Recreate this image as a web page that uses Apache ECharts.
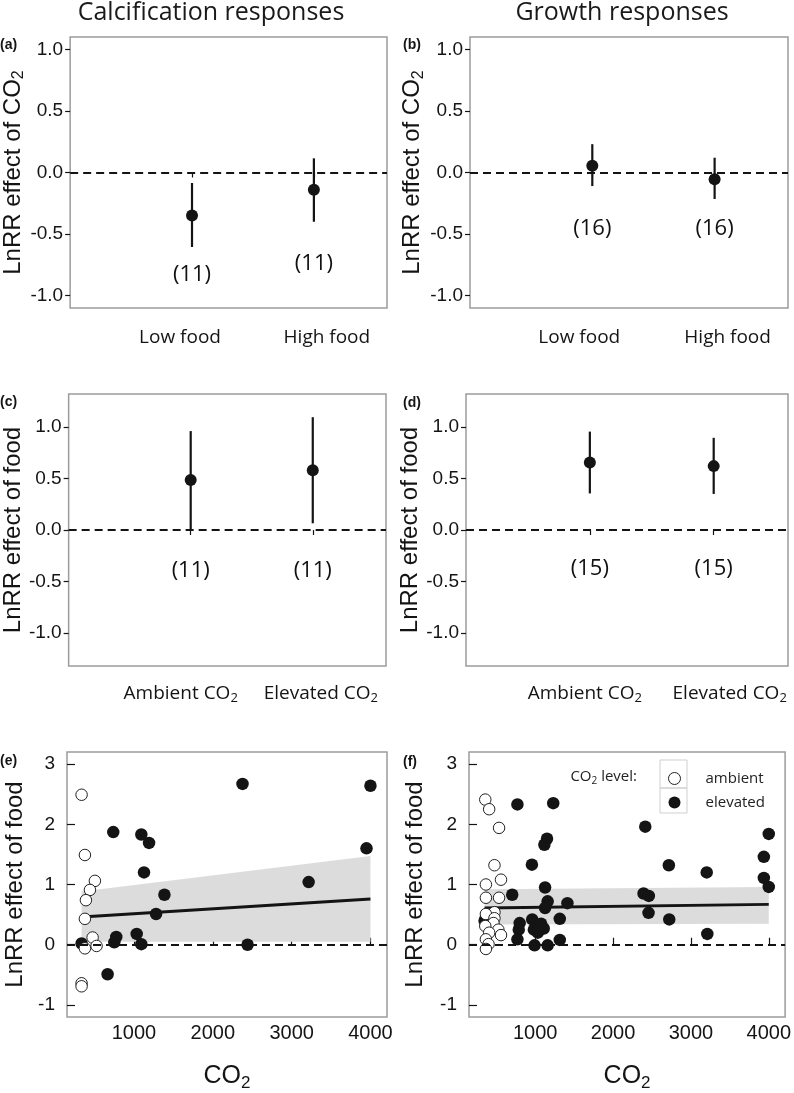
<!DOCTYPE html>
<html>
<head>
<meta charset="utf-8">
<script src="https://cdn.jsdelivr.net/npm/echarts@6/dist/echarts.min.js"></script>
<style>
html,body{margin:0;padding:0;background:#fff;}
#c{width:794px;height:1093px;}
</style>
</head>
<body>
<div id="c"></div>
<script>
// ---------------- DATA ----------------
const columnTitles = ['Calcification responses', 'Growth responses'];
const panelLetters = ['(a)', '(b)', '(c)', '(d)', '(e)', '(f)'];
const foodCats = ['Low food', 'High food'];
const co2Cats = ['Ambient CO', 'Elevated CO'];
const errTicks = [-1, -0.5, 0, 0.5, 1];
const scatYTicks = [-1, 0, 1, 2, 3];
const scatXTicks = [1000, 2000, 3000, 4000];

// (a) calcification, effect of CO2
const aMean = [-0.35, -0.14];
const aLo = [-0.605, -0.40];
const aHi = [-0.085, 0.115];
const aN = [11, 11];
const aNY = [-0.83, -0.74];
// (b) growth, effect of CO2
const bMean = [0.055, -0.055];
const bLo = [-0.11, -0.215];
const bHi = [0.23, 0.12];
const bN = [16, 16];
const bNY = [-0.455, -0.455];
// (c) calcification, effect of food
const cMean = [0.485, 0.58];
const cLo = [0.005, 0.065];
const cHi = [0.96, 1.095];
const cN = [11, 11];
const cNY = [-0.40, -0.40];
// (d) growth, effect of food
const dMean = [0.655, 0.62];
const dLo = [0.355, 0.35];
const dHi = [0.955, 0.895];
const dN = [15, 15];
const dNY = [-0.38, -0.38];

// (e) calcification: food effect vs CO2
const eAmbX = [335, 377, 504, 441, 390, 377, 475, 525, 377, 335, 335];
const eAmbY = [2.49, 1.49, 1.06, 0.91, 0.74, 0.43, 0.12, -0.02, -0.06, -0.64, -0.69];
const eElevX = [2377, 4000, 737, 1093, 1191, 1127, 3950, 3216, 1386, 1280, 1034, 775, 750, 1093, 2441, 335, 665];
const eElevY = [2.67, 2.64, 1.87, 1.83, 1.69, 1.20, 1.60, 1.04, 0.83, 0.51, 0.18, 0.13, 0.04, 0.01, 0.0, 0.02, -0.49];
const eFitX = [335, 4000];
const eFitY = [0.46, 0.76];
const eBandLo = [0.05, 0.05];
const eBandHi = [0.885, 1.475];

// (f) growth: food effect vs CO2
const fAmbX = [359, 409, 536, 477, 561, 367, 367, 536, 477, 367, 477, 464, 359, 527, 409, 561, 367, 401, 367];
const fAmbY = [2.41, 2.25, 1.94, 1.32, 1.08, 1.00, 0.78, 0.78, 0.54, 0.51, 0.44, 0.36, 0.31, 0.25, 0.20, 0.16, 0.09, 0.01, -0.07];
const fElevX = [772, 1232, 2414, 4000, 1152, 1118, 958, 2717, 3937, 3203, 3937, 4000, 705, 1127, 2392, 2460, 1160, 1414, 1127, 2456, 1316, 2722, 962, 801, 1076, 350, 789, 983, 1110, 1034, 3211, 772, 1316, 992, 1160];
const fElevY = [2.33, 2.35, 1.96, 1.84, 1.76, 1.66, 1.33, 1.32, 1.46, 1.20, 1.11, 0.96, 0.83, 0.95, 0.85, 0.81, 0.72, 0.69, 0.61, 0.53, 0.43, 0.42, 0.42, 0.36, 0.35, 0.40, 0.25, 0.25, 0.27, 0.20, 0.18, 0.09, 0.08, -0.01, -0.01];
const fFitX = [350, 4000];
const fFitY = [0.61, 0.67];
const fBandLo = [0.336, 0.347];
const fBandHi = [0.92, 0.96];

// ---------------- STYLE / LAYOUT ----------------
const SANS = 'Liberation Sans';
const HUM = 'Open Sans';
const INK = '#141414';
const BOX = '#9c9c9c';

const grids = [
  {left: 69, top: 37, width: 318, height: 271},
  {left: 470, top: 37, width: 318, height: 271},
  {left: 64, top: 394, width: 322, height: 272},
  {left: 466, top: 394, width: 322, height: 272},
  {left: 67, top: 752, width: 320, height: 271},
  {left: 469, top: 752, width: 319, height: 271}
].map(g => Object.assign({show: true, borderColor: BOX, borderWidth: 1.5, backgroundColor: 'transparent'}, g));

// horizontal shifts of the category labels (px), per panel [left label, right label]
const catShift = [[-12, 13], [-13, 13], [-10, 8], [-5, 16]];

function catAxis(idx, names, withSub) {
  const sh = catShift[idx];
  return {
    gridIndex: idx, type: 'value', min: 0, max: 2.6,
    axisLine: {show: false}, splitLine: {show: false},
    axisTick: {show: true, customValues: [1, 2], length: 5, lineStyle: {color: INK, width: 1.2}},
    axisLabel: {
      show: true, customValues: [1, 2], margin: withSub ? 16 : 20,
      fontFamily: HUM, fontSize: 19, color: INK,
      formatter: function (v) {
        const i = Math.round(v) - 1;
        const txt = names[i] + (withSub ? '{s|2}' : '');
        const s = sh[i];
        return s < 0 ? txt + '{p' + i + '| }' : '{p' + i + '| }' + txt;
      },
      rich: {
        s: {fontFamily: HUM, fontSize: 13, color: INK, padding: [10, 0, 0, 0]},
        p0: {width: Math.abs(sh[0]) * 2, fontSize: 19},
        p1: {width: Math.abs(sh[1]) * 2, fontSize: 19}
      }
    }
  };
}

function errYAxis(idx, lim, name) {
  return {
    gridIndex: idx, type: 'value', min: -lim, max: lim,
    axisLine: {show: false}, splitLine: {show: false},
    axisTick: {show: true, customValues: errTicks, length: 5, lineStyle: {color: INK, width: 1.2}},
    axisLabel: {customValues: errTicks, margin: 7, fontFamily: SANS, fontSize: 19, color: INK,
      formatter: v => v.toFixed(1)},
    name: name, nameLocation: 'middle', nameRotate: 90, nameGap: 40,
    nameTextStyle: {fontFamily: SANS, fontSize: 24, color: INK,
      rich: {s: {fontFamily: SANS, fontSize: 16, color: INK, padding: [11, 0, 0, 0]}}}
  };
}

function scatXAxis(idx) {
  return {
    gridIndex: idx, type: 'value', min: 150, max: 4210,
    axisLine: {show: false}, splitLine: {show: false},
    axisTick: {show: true, inside: true, customValues: scatXTicks, length: 7, lineStyle: {color: INK, width: 1.2}},
    axisLabel: {customValues: scatXTicks, margin: 6, fontFamily: SANS, fontSize: 20, color: INK,
      formatter: v => String(v)},
    name: 'CO{s|2}', nameLocation: 'middle', nameGap: 44,
    nameTextStyle: {fontFamily: SANS, fontSize: 25, color: INK,
      rich: {s: {fontFamily: SANS, fontSize: 17, color: INK, padding: [14, 0, 0, 0]}}}
  };
}

function scatYAxis(idx) {
  return {
    gridIndex: idx, type: 'value', min: -1.2, max: 3.2,
    axisLine: {show: false}, splitLine: {show: false},
    axisTick: {show: true, inside: true, customValues: scatYTicks, length: 8, lineStyle: {color: INK, width: 1.2}},
    axisLabel: {customValues: scatYTicks, margin: 12, fontFamily: SANS, fontSize: 19, color: INK,
      formatter: v => String(v)},
    name: 'LnRR effect of food', nameLocation: 'middle', nameRotate: 90, nameGap: idx === 4 ? 40 : 42,
    nameTextStyle: {fontFamily: SANS, fontSize: 24, color: INK}
  };
}

const zeroLine = {
  silent: true, symbol: ['none', 'none'], animation: false,
  label: {show: false},
  lineStyle: {type: [8, 5], color: INK, width: 2, opacity: 1},
  emphasis: {disabled: true},
  data: [{yAxis: 0}]
};

function errSeries(idx, mean, lo, hi, n, nY) {
  return [
    {
      type: 'custom', xAxisIndex: idx, yAxisIndex: idx, z: 3,
      data: mean.map((m, i) => [i + 1, lo[i], hi[i]]),
      encode: {x: 0, y: [1, 2]},
      renderItem: function (params, api) {
        const x = api.value(0);
        const p1 = api.coord([x, api.value(1)]);
        const p2 = api.coord([x, api.value(2)]);
        return {type: 'line', shape: {x1: p1[0], y1: p1[1], x2: p2[0], y2: p2[1]},
          style: {stroke: INK, lineWidth: 2.2}};
      }
    },
    {
      type: 'scatter', xAxisIndex: idx, yAxisIndex: idx, z: 4,
      data: mean.map((m, i) => [i + 1, m]),
      symbol: 'circle', symbolSize: 12,
      itemStyle: {color: INK, opacity: 1},
      markLine: zeroLine
    },
    {
      type: 'scatter', xAxisIndex: idx, yAxisIndex: idx, z: 4, silent: true,
      data: nY.map((y, i) => [i + 1, y]),
      symbolSize: 1, itemStyle: {color: 'rgba(0,0,0,0)', opacity: 1},
      label: {show: true, position: 'inside', fontFamily: HUM, fontSize: 22, color: '#111',
        textBorderWidth: 0, opacity: 1,
        formatter: p => '(' + n[p.dataIndex] + ')'}
    }
  ];
}

function scatSeries(idx, ambX, ambY, elvX, elvY, fitX, fitY, bandLo, bandHi) {
  return [
    {
      type: 'custom', xAxisIndex: idx, yAxisIndex: idx, z: 1, silent: true,
      data: fitX.map((x, i) => [x, bandLo[i], bandHi[i]]),
      encode: {x: 0, y: [1, 2]},
      renderItem: function (params, api) {
        if (params.dataIndex !== 0) return null;
        const pts = [];
        for (let i = 0; i < fitX.length; i++) pts.push(api.coord([fitX[i], bandLo[i]]));
        for (let i = fitX.length - 1; i >= 0; i--) pts.push(api.coord([fitX[i], bandHi[i]]));
        return {type: 'polygon', shape: {points: pts}, style: {fill: '#dcdcdc'}};
      }
    },
    {
      type: 'line', xAxisIndex: idx, yAxisIndex: idx, z: 2, silent: true,
      data: fitX.map((x, i) => [x, fitY[i]]),
      symbol: 'none', lineStyle: {color: INK, width: 3},
      markLine: zeroLine
    },
    {
      name: 'elevated', type: 'scatter', xAxisIndex: idx, yAxisIndex: idx, z: 3,
      data: elvX.map((x, i) => [x, elvY[i]]),
      symbol: 'circle', symbolSize: 12.5,
      itemStyle: {color: INK, opacity: 1}
    },
    {
      name: 'ambient', type: 'scatter', xAxisIndex: idx, yAxisIndex: idx, z: 4,
      data: ambX.map((x, i) => [x, ambY[i]]),
      symbol: 'circle', symbolSize: 11.5,
      itemStyle: {color: '#ffffff', borderColor: '#222', borderWidth: 1, opacity: 1}
    }
  ];
}

const letterPos = [[0, 45], [403, 45], [0, 402], [403, 403], [0, 761], [403, 762]];

const option = {
  animation: false,
  backgroundColor: '#ffffff',
  grid: grids,
  xAxis: [
    catAxis(0, foodCats, false), catAxis(1, foodCats, false),
    catAxis(2, co2Cats, true), catAxis(3, co2Cats, true),
    scatXAxis(4), scatXAxis(5)
  ],
  yAxis: [
    errYAxis(0, 1.1, 'LnRR effect of CO{s|2}'), errYAxis(1, 1.1, 'LnRR effect of CO{s|2}'),
    errYAxis(2, 1.32, 'LnRR effect of food'), errYAxis(3, 1.32, 'LnRR effect of food'),
    scatYAxis(4), scatYAxis(5)
  ],
  legend: {
    show: true, orient: 'vertical', left: 668, top: 771, padding: 0,
    itemWidth: 12, itemHeight: 12, itemGap: 9,
    selectedMode: false,
    data: [
      {name: 'ambient', itemStyle: {borderWidth: 1, borderColor: '#222', color: '#fff'}},
      {name: 'elevated'}
    ],
    textStyle: {fontFamily: HUM, fontSize: 15, color: '#222', padding: [0, 0, 0, 20]}
  },
  graphic: [
    {type: 'text', x: 211, y: 13, style: {text: columnTitles[0], font: '25px "Open Sans"', fill: '#1a1a1a', align: 'center', verticalAlign: 'middle'}},
    {type: 'text', x: 622, y: 13, style: {text: columnTitles[1], font: '25px "Open Sans"', fill: '#1a1a1a', align: 'center', verticalAlign: 'middle'}}
  ].concat(panelLetters.map((t, i) => ({
    type: 'text', x: letterPos[i][0], y: letterPos[i][1],
    style: {text: t, font: 'bold 14px "Liberation Sans"', fill: INK, align: 'left', verticalAlign: 'middle'}
  }))).concat([
    {type: 'rect', shape: {x: 660, y: 760, width: 27, height: 28}, style: {fill: 'none', stroke: '#cfcfcf', lineWidth: 1}, z: 50},
    {type: 'rect', shape: {x: 660, y: 788, width: 27, height: 25}, style: {fill: 'none', stroke: '#cfcfcf', lineWidth: 1}, z: 50},
    {type: 'text', x: 637, y: 777, z: 50, style: {
      text: 'CO{s|2} level:', align: 'right', verticalAlign: 'middle',
      fontFamily: HUM, fontSize: 15, fill: '#222',
      rich: {s: {fontFamily: HUM, fontSize: 10, fill: '#222', padding: [8, 0, 0, 0]}}
    }}
  ]),
  series: [].concat(
    errSeries(0, aMean, aLo, aHi, aN, aNY),
    errSeries(1, bMean, bLo, bHi, bN, bNY),
    errSeries(2, cMean, cLo, cHi, cN, cNY),
    errSeries(3, dMean, dLo, dHi, dN, dNY),
    scatSeries(4, eAmbX, eAmbY, eElevX, eElevY, eFitX, eFitY, eBandLo, eBandHi),
    scatSeries(5, fAmbX, fAmbY, fElevX, fElevY, fFitX, fFitY, fBandLo, fBandHi)
  )
};

const chart = echarts.init(document.getElementById('c'), null, {renderer: 'canvas', width: 794, height: 1093});
chart.setOption(option);
</script>
</body>
</html>
